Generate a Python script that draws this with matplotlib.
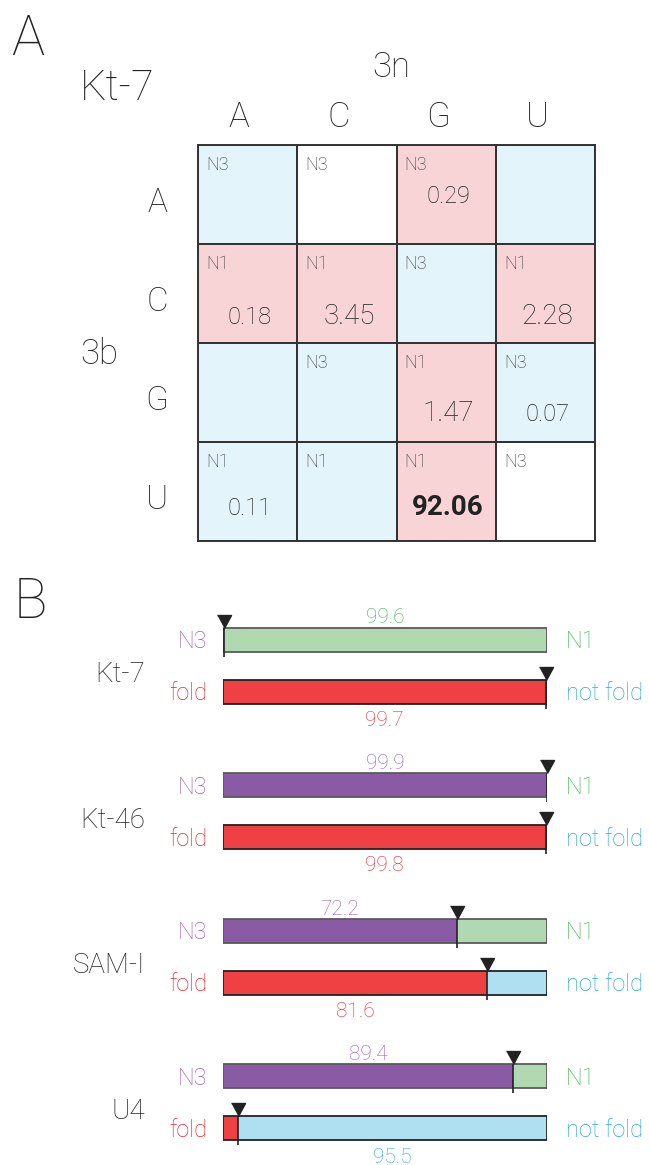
import numpy as np
import matplotlib
matplotlib.use("Agg")
import matplotlib.pyplot as plt
from matplotlib.colors import ListedColormap

plt.rcParams["font.family"] = ["Roboto", "DejaVu Sans"]
plt.rcParams["font.weight"] = "light"

# ---- panel A data ----
bases = ["A", "C", "G", "U"]
# cell shading: 0 white, 1 light blue, 2 pink
cell_class = [
    [1, 0, 2, 1],
    [2, 2, 1, 2],
    [1, 1, 2, 1],
    [1, 1, 2, 0],
]
cell_tag = [
    ["N3", "N3", "N3", ""],
    ["N1", "N1", "N3", "N1"],
    ["", "N3", "N1", "N3"],
    ["N1", "N1", "N1", "N3"],
]
cell_value = [
    [None, None, 0.29, None],
    [0.18, 3.45, None, 2.28],
    [None, None, 1.47, 0.07],
    [0.11, None, 92.06, None],
]

# ---- panel B data ----
motifs = ["Kt-7", "Kt-46", "SAM-I", "U4"]
n3_pct = [0.4, 99.9, 72.2, 89.4]
fold_pct = [99.7, 99.8, 81.6, 4.5]

W, H = 649, 1165
fig = plt.figure(figsize=(W / 100, H / 100), dpi=100)


def px(x, y):
    return x / W, 1 - y / H


# ---------------- panel A ----------------
axA = fig.add_axes([198 / W, 1 - 541 / H, 397 / W, 396 / H])
cmap = ListedColormap(["#ffffff", "#e4f4fb", "#f9d4d6"])
axA.pcolormesh(np.array(cell_class), cmap=cmap, vmin=-0.5, vmax=2.5,
               edgecolors="#333333", linewidth=1.2)
axA.set_xlim(0, 4)
axA.set_ylim(4, 0)
axA.set_xticks([])
axA.set_yticks([])
for s in axA.spines.values():
    s.set_color("#333333")
    s.set_linewidth(1.4)

val_top = [58, 80, 78, 73]  # baseline distance from cell top, px
biggest = max(v for row in cell_value for v in row if v is not None)
for r in range(4):
    for c in range(4):
        if cell_tag[r][c]:
            axA.annotate(cell_tag[r][c], xy=(c, r), xytext=(5.8, -18),
                         textcoords="offset points", ha="left", va="baseline",
                         fontsize=13, color="#333333")
        v = cell_value[r][c]
        if v is not None:
            big = v > 1
            axA.annotate(f"{v:.2f}", xy=(c + 0.5, r), xytext=(1.5, -val_top[r] * 0.72),
                         textcoords="offset points", ha="center", va="baseline",
                         fontsize=20 if big else 17, color="#222222",
                         fontweight="bold" if v == biggest else "light")

for i, b in enumerate(bases):
    axA.annotate(b, xy=(i + 0.5, 0), xytext=(-6, 13), textcoords="offset points",
                 ha="center", va="baseline", fontsize=25, color="#222222",
                 annotation_clip=False)
    axA.annotate(b, xy=(0, i + 0.5), xytext=(-29.5, -12.5), textcoords="offset points",
                 ha="center", va="baseline", fontsize=24, color="#222222",
                 annotation_clip=False)

fig.text(*px(11, 55), "A", fontsize=40, ha="left", va="baseline", color="#222222")
fig.text(*px(80, 100), "Kt-7", fontsize=30, ha="left", va="baseline", color="#222222")
fig.text(*px(391, 77), "3n", fontsize=25, ha="center", va="baseline", color="#222222")
fig.text(*px(80, 364), "3b", fontsize=25, ha="left", va="baseline", color="#222222")

# ---------------- panel B ----------------
fig.text(*px(14, 618), "B", fontsize=40, ha="left", va="baseline", color="#222222")

unit = 52.0            # px per row unit
gap = 2.8              # group spacing in row units
h = 24 / unit          # bar height
y0 = 639.5             # px of first bar centre
axB = fig.add_axes([223 / W, 0, 324 / W, 585 / H])
axB.set_xlim(0, 100)
axB.set_ylim((1165 - y0) / unit, (580 - y0) / unit)
axB.axis("off")

purple, green, red, cyan = "#8b5aa5", "#b0d9b1", "#ef4044", "#aee0f2"
t_purple, t_green, t_red, t_cyan = "#9d5fb4", "#3bb54a", "#e8262d", "#27a8e0"

tri = [(-0.54, 1.0), (0.54, 1.0), (0.0, 0.0)]

for i, name in enumerate(motifs):
    rows = [
        (i * gap, n3_pct[i], purple, green, "#5a5a5a", "N3", "N1",
         t_purple, t_green, "top"),
        (i * gap + 1, fold_pct[i], red, cyan, "#222222", "fold", "not fold",
         t_red, t_cyan, "bottom"),
    ]
    for y, p, c1, c2, ec, l1, l2, tc1, tc2, where in rows:
        axB.barh(y, p, left=0, height=h, color=c1, linewidth=0)
        axB.barh(y, 100 - p, left=p, height=h, color=c2, linewidth=0)
        axB.barh(y, 100, left=0, height=h, fill=False, edgecolor=ec, linewidth=1.3)
        axB.vlines(p, y - h / 2, y + h / 2 + 5 / unit, color="#222222", linewidth=1.2)
        axB.plot([p], [y - h / 2], linestyle="none", marker=tri, markersize=18.7,
                 color="#222222", clip_on=False)
        axB.annotate(l1, xy=(0, y), xytext=(-11.5, -6.1), textcoords="offset points",
                     ha="right", va="baseline", fontsize=17, color=tc1)
        axB.annotate(l2, xy=(100, y), xytext=(13.7, -6.1), textcoords="offset points",
                     ha="left", va="baseline", fontsize=17, color=tc2,
                     annotation_clip=False)
        if p >= 50:
            val, cx, tc = p, p / 2, tc1
        else:
            val, cx, tc = 100 - p, (p + 100) / 2, tc2
        if where == "top":
            axB.annotate(f"{val:.1f}", xy=(cx, y - h / 2), xytext=(0, 2.9),
                         textcoords="offset points", ha="center", va="baseline",
                         fontsize=15, color=tc)
        else:
            axB.annotate(f"{val:.1f}", xy=(cx, y + h / 2), xytext=(0, -16.0),
                         textcoords="offset points", ha="center", va="baseline",
                         fontsize=15, color=tc, annotation_clip=False)
    axB.annotate(name, xy=(0, i * gap + 0.5), xytext=(-56, -12),
                 textcoords="offset points", ha="right", va="baseline",
                 fontsize=20, color="#222222", annotation_clip=False)

fig.savefig("out.png", dpi=100)
